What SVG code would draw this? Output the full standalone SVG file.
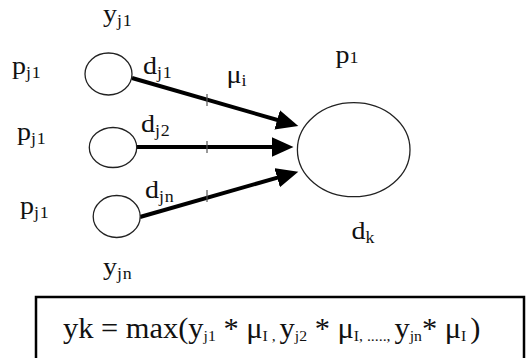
<svg xmlns="http://www.w3.org/2000/svg" width="526" height="358" viewBox="0 0 526 358">
<defs>
<style>
.n{fill:#fff;stroke:#222;stroke-width:1.3}
.c{stroke:#000;stroke-width:4;fill:none}
.tick{stroke:#555;stroke-width:1.2}
</style>
<marker id="ah" markerUnits="userSpaceOnUse" markerWidth="24" markerHeight="22" refX="4" refY="10" orient="auto">
<path d="M0,0 L22,10 L0,20 Z" fill="#000"/>
</marker>
</defs>
<rect width="526" height="358" fill="#fff"/>
<g id="connectors">
<line class="c" x1="132" y1="78" x2="281" y2="121" marker-end="url(#ah)"/>
<line class="c" x1="137" y1="147" x2="275.5" y2="147" marker-end="url(#ah)"/>
<line class="c" x1="140" y1="217" x2="281" y2="176.6" marker-end="url(#ah)"/>
<line class="tick" x1="207" y1="94" x2="207" y2="106"/>
<line class="tick" x1="207" y1="141" x2="207" y2="153"/>
<line class="tick" x1="207" y1="190" x2="207" y2="202"/>
</g>
<g font-family="Liberation Serif" font-size="25" fill="#111">
<g id="node1">
<ellipse class="n" cx="108.5" cy="74" rx="23.5" ry="21"/>
<text transform="translate(103,22) scale(1.12,1)">y<tspan font-size="16" letter-spacing="0.8" dy="4">j1</tspan></text>
<text transform="translate(12,74) scale(1.12,1)">p<tspan font-size="16" letter-spacing="0.8" dy="4">j1</tspan></text>
<text transform="translate(143,74) scale(1.12,1)">d<tspan font-size="16" letter-spacing="0.8" dy="4">j1</tspan></text>
</g>
<g id="node2">
<ellipse class="n" cx="113" cy="147.5" rx="23.7" ry="20"/>
<text transform="translate(17,140) scale(1.12,1)">p<tspan font-size="16" letter-spacing="0.8" dy="4">j1</tspan></text>
<text transform="translate(141,132) scale(1.12,1)">d<tspan font-size="16" letter-spacing="0.8" dy="4">j2</tspan></text>
</g>
<g id="node3">
<ellipse class="n" cx="116.7" cy="216.5" rx="23.5" ry="21"/>
<text transform="translate(20,214) scale(1.12,1)">p<tspan font-size="16" letter-spacing="0.8" dy="4">j1</tspan></text>
<text transform="translate(145,198) scale(1.12,1)">d<tspan font-size="16" letter-spacing="0.8" dy="4">jn</tspan></text>
<text transform="translate(103,275) scale(1.12,1)">y<tspan font-size="16" letter-spacing="0.8" dy="4">jn</tspan></text>
</g>
<g id="target">
<ellipse class="n" cx="353.7" cy="149.7" rx="56.3" ry="47"/>
<text transform="translate(335.5,63) scale(1.12,1)">p<tspan font-size="16" letter-spacing="0.8">1</tspan></text>
<text transform="translate(351.5,239) scale(1.12,1)">d<tspan font-size="16" dy="4">k</tspan></text>
<text transform="translate(226.5,83) scale(1.12,1)">μ<tspan font-size="16" dy="3">i</tspan></text>
</g>
<g id="formula">
<rect x="36" y="297" width="488" height="70" fill="#fff" stroke="#000" stroke-width="2.5"/>
<text font-size="29" transform="translate(63,338) scale(1.05,1)">yk = max(y<tspan font-size="15" dy="3">j1</tspan><tspan dy="-3"> * μ</tspan><tspan font-size="15" dy="3">I , </tspan><tspan dy="-3">y</tspan><tspan font-size="15" dy="3">j2</tspan><tspan dy="-3"> * μ</tspan><tspan font-size="15" dy="3">I, ....., </tspan><tspan dy="-3">y</tspan><tspan font-size="15" dy="3">jn</tspan><tspan dy="-3">* μ</tspan><tspan font-size="15" dy="3">I </tspan><tspan dy="-3">)</tspan></text>
</g>
</g>
</svg>
